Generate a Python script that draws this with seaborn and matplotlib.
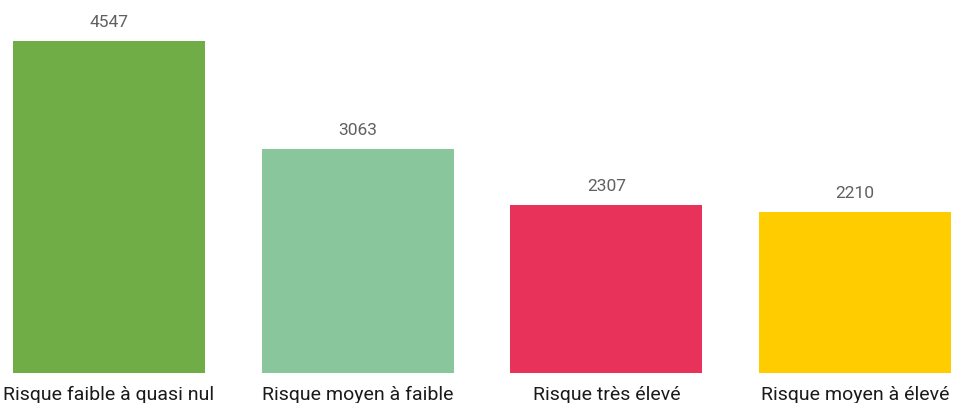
import matplotlib
matplotlib.use('Agg')
import matplotlib.pyplot as plt
import seaborn as sns
import pandas as pd

categories = ['Risque faible à quasi nul', 'Risque moyen à faible',
              'Risque très élevé', 'Risque moyen à élevé']
counts = [4547, 3063, 2307, 2210]
colors = ['#70AD47', '#8AC69B', '#E8325A', '#FFCC00']

df = pd.DataFrame({'Risque': categories, 'Nombre': counts})

sns.set_style('white')
plt.rcParams['font.family'] = ['Roboto', 'DejaVu Sans']

fig = plt.figure(figsize=(9.56, 4.03), dpi=100)
ax = fig.add_axes([13 / 956, 30 / 403, 938 / 956, 373 / 403])

sns.barplot(data=df, x='Risque', y='Nombre', hue='Risque', palette=colors,
            width=0.772, saturation=1, legend=False, linewidth=0, ax=ax)

for i, v in enumerate(counts):
    ax.text(i, v + 150, f'{v}', ha='center', va='bottom',
            fontsize=12.5, color='#606060')

ax.set_xlim(-0.386, 3.386)
ax.set_ylim(0, 5109)
ax.set_xlabel('')
ax.set_ylabel('')
ax.set_yticks([])
ax.tick_params(axis='x', length=0, pad=9, labelsize=14, labelcolor='#1a1a1a')
sns.despine(ax=ax, left=True, bottom=True)

fig.savefig('out.png', dpi=100)
